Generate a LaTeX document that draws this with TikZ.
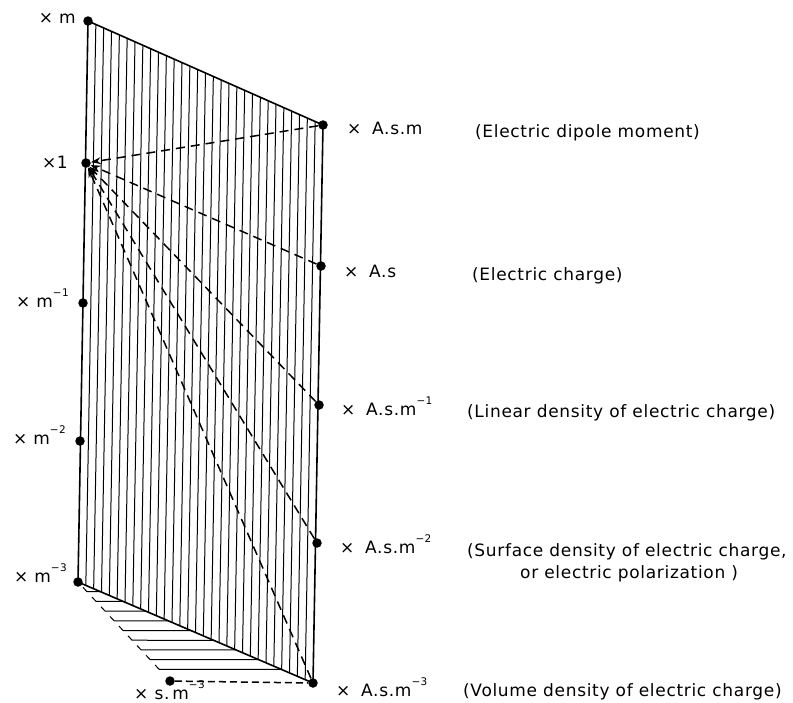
\documentclass[tikz,border=0pt]{standalone}
\usepackage{fontspec}
\setmainfont{DejaVu Sans}
\newfontfamily\spfont[LetterSpace=4]{DejaVu Sans}
\usetikzlibrary{calc,arrows.meta}
\newcommand{\upx}[1]{\raisebox{0.62em}{\fontsize{10.5}{10.5}\selectfont #1}}
\begin{document}
\begin{tikzpicture}[x=1pt,y=-1pt,
  dot/.style={circle,fill=black,inner sep=0pt,minimum size=9.5pt},
  edgeln/.style={line width=1.6pt},
  hatch/.style={line width=1pt},
  dashln/.style={line width=1.5pt,dash pattern=on 9pt off 6pt},
  dashbot/.style={line width=1.5pt,dash pattern=on 7pt off 4pt},
  lbl/.style={font=\spfont\fontsize{17}{20}\selectfont,inner sep=0pt,anchor=base west},
  lblr/.style={font=\spfont\fontsize{17}{20}\selectfont,inner sep=0pt,anchor=base east},
  desc/.style={font=\spfont\fontsize{17}{20}\selectfont,inner sep=0pt,anchor=base west}]
\useasboundingbox (0,0) rectangle (793,702);
% points
\node[dot] (xm) at (88,21) {};
\node[dot] (x1) at (86,163) {};
\node[dot] (m1) at (83,303) {};
\node[dot] (m2) at (80,441) {};
\node[dot] (m3) at (78,582) {};
\node[dot] (asm) at (323,125) {};
\node[dot] (as) at (321,266) {};
\node[dot] (asm1) at (319,405) {};
\node[dot] (asm2) at (317,543) {};
\node[dot] (asm3) at (313,683) {};
\node[dot] (sm3) at (170,681) {};
% vertical hatching of the plane
\foreach \t in {1,...,29}
  \draw[hatch] ($(xm.center)!\t/30!(asm.center)$) -- ($(m3.center)!\t/30!(asm3.center)$);
% horizontal hatching of the triangle
\foreach \k in {1,...,9}{
  \draw[hatch] ($(m3.center)!\k/10.2!(sm3.center)$) -- ($(m3.center)!\k/10.4!(asm3.center)$);
  \draw[hatch] ($(m3.center)!\k/10.2!(sm3.center)$) -- ($(m3.center)!{(\k-0.45)/10.2}!(sm3.center)$);
}
% outline
\draw[edgeln] (xm.center) -- (m3.center);
\draw[edgeln] (xm.center) -- (asm.center);
\draw[edgeln] (asm.center) -- (asm3.center);
\draw[edgeln] (m3.center) -- (asm3.center);
\draw[dashbot] (sm3) -- (asm3);
% dashed relations
\foreach \p in {asm,as,asm1,asm2,asm3}
  \draw[dashln,-{Stealth[length=10pt,width=7pt]}] (\p) -- (x1);
% left labels
\node[lblr] (lxm) at (76,23) {× m};
\node[lblr] (lx1) at (68,168) {×1};
\node[lblr] (lm1) at (69,307) {× m\upx{−1}};
\node[lblr] (lm2) at (66,444) {× m\upx{−2}};
\node[lblr] (lm3) at (67,582) {× m\upx{−3}};
\node[lbl] (lsm3) at (134,699) {× s.\,m\upx{−3}};
% right labels
\node[lbl] (lasm) at (347,134) {×\; A.s.m};
\node[lbl] (las) at (344,277) {×\; A.s};
\node[lbl] (lasm1) at (341,415) {×\; A.s.m\upx{−1}};
\node[lbl] (lasm2) at (340,553) {×\; A.s.m\upx{−2}};
\node[lbl] (lasm3) at (336,696) {×\; A.s.m\upx{−3}};
% descriptions
\node[desc] (dasm) at (475,137) {(Electric dipole moment)};
\node[desc] (das) at (472,280) {(Electric charge)};
\node[desc] (dasm1) at (467,417) {(Linear density of electric charge)};
\node[desc] (dasm2) at (467,556) {(Surface density of electric charge,};
\node[desc] (dasm2b) at (520,578) {or electric polarization )};
\node[desc] (dasm3) at (463,696) {(Volume density of electric charge)};
\end{tikzpicture}
\end{document}
